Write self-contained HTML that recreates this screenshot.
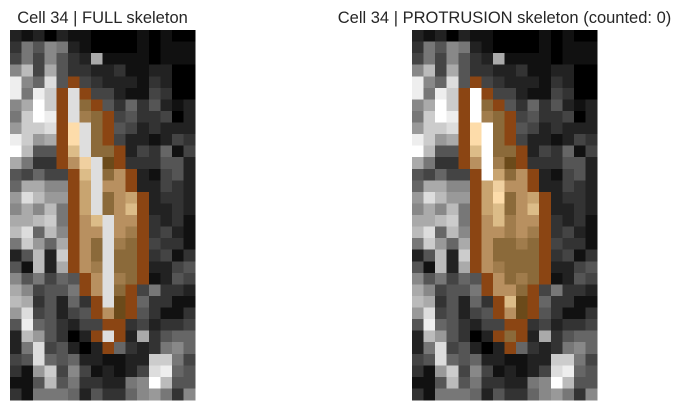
<!DOCTYPE html>
<html><head><meta charset="utf-8"><style>
body{margin:0;background:#fff;width:681px;height:410px;overflow:hidden}
svg{display:block}
text{font-family:"Liberation Sans",Arial,sans-serif;font-size:16.5px;fill:#262626}
</style></head><body>
<svg id="fig" width="681" height="410">
<text x="102.5" y="23" text-anchor="middle">Cell 34 | FULL skeleton</text>
<text x="504.5" y="23" text-anchor="middle">Cell 34 | PROTRUSION skeleton (counted: 0)</text>
<g id="left"></g>
<g id="right"></g>
</svg>
<script>
const leftRows=[
"2120211000010100","3758721000010111","4748532a11110111","8b4a533223112200",
"e86d5O4322213200","e7ecOSO442114300","8afcOSBO53635212","7cfeOSCBO4533402",
"9ccdOHSBO5423222","ec9aOHSBO4221243","fb55OFSBBO243614","a733ODGSAO333552",
"54644OFSBDO21452","6aa88OESDDO22432","9db99OESBDEO2332","8a8b7OESBDFO2232",
"aabc7ODFSDDO3231","bd6b8ODDSDCO3421","7c96aODBSCBO4331","25b2cODBSBBO3413",
"51b2aODCSBBO2245","857465ODSCBO1254","a84557ODSBO47332","ba35263OSAO63311",
"9d45245ODAO53113","5e653244OO342334","2b95302OSO2a3566","27d45202O6323786",
"45d656221122cc74","319c48412124de65","115b57332278fb55","3177762533689738"];
const rightRows=[
"2120211000010100","3758721000010111","4748532a11110111","8b4a533223112200",
"e86d5O4322213200","e7ecOWO442114300","8afcOWBO53635212","7cfeOWCBO4533402",
"9ccdOHWBO5423222","ec9aOHWBO4221243","fb55OFWBBO243614","a733ODWCAO333552",
"54644OWEBDO21452","6aa88OEGDDO22432","9db99OEHBDEO2332","8a8b7OEFBDFO2232",
"aabc7ODFCDDO3231","bd6b8ODDCDCO3421","7c96aODBBCBO4331","25b2cODBBBBO3413",
"51b2aODCBBBO2245","857465ODBCBO1254","a84557ODDBO47332","ba35263OFAO63311",
"9d45245ODAO53113","5e653244OO342334","2b95302OBO2a3566","27d45202O6323786",
"45d656221122cc74","319c48412124de65","115b57332278fb55","3177762533689738"];
const palette={A:"#6b4a1a",B:"#8b6a3a",C:"#a07c4c",D:"#b89060",E:"#c8a470",F:"#dcbc88",G:"#f0d0a0",H:"#fddcaa",O:"#8b4513",S:"#dedede",W:"#ffffff"};
const NS="http://www.w3.org/2000/svg";
const cw=185/16, ch=370/32;
function col(c){if(palette[c])return palette[c];const v=parseInt(c,16)*17;return `rgb(${v},${v},${v})`;}
function draw(id,rows,x0){
  const g=document.getElementById(id);
  rows.forEach((r,i)=>{[...r].forEach((c,j)=>{
    const el=document.createElementNS(NS,"rect");
    el.setAttribute("x",(x0+j*cw).toFixed(2));
    el.setAttribute("y",(30+i*ch).toFixed(2));
    el.setAttribute("width",(cw+0.4).toFixed(2));
    el.setAttribute("height",(ch+0.4).toFixed(2));
    el.setAttribute("fill",col(c));
    el.setAttribute("shape-rendering","crispEdges");
    
    
    g.appendChild(el);
  });});
}
draw("left",leftRows,10);
draw("right",rightRows,412);
</script>
</body></html>
